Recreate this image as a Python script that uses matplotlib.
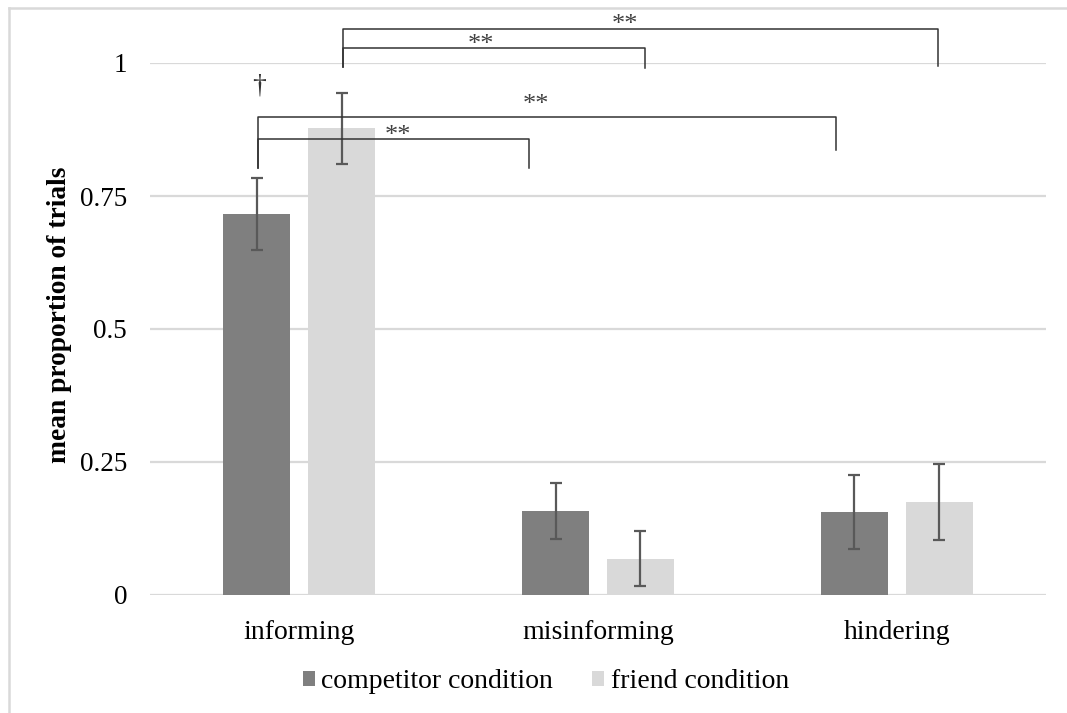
import matplotlib
matplotlib.use("Agg")
import matplotlib.pyplot as plt
from matplotlib.lines import Line2D
import numpy as np

categories = ["informing", "misinforming", "hindering"]
series_names = ["competitor condition", "friend condition"]
competitor = [0.716, 0.158, 0.156]
competitor_err = [0.068, 0.052, 0.070]
friend = [0.877, 0.068, 0.175]
friend_err = [0.067, 0.052, 0.071]
yticks = [0, 0.25, 0.5, 0.75, 1]
ytick_labels = ["0", "0.25", "0.5", "0.75", "1"]

plt.rcParams['font.family'] = ['Liberation Serif', 'DejaVu Serif']

fig = plt.figure(figsize=(10.67, 7.13), dpi=100)
ax = fig.add_axes([150/1067, 1-595/713, 896/1067, 532/713])

# figure frame (left and top edges)
fcol = '#d9d9d9'
fig.lines.append(Line2D([9/1067, 9/1067], [0, 1-8/713], transform=fig.transFigure,
                        color=fcol, linewidth=1.8))
fig.lines.append(Line2D([9/1067, 1], [1-8/713, 1-8/713], transform=fig.transFigure,
                        color=fcol, linewidth=1.8))

x = np.arange(len(categories))
w = 0.224
off = 0.142
ekw = dict(ecolor='#595959', elinewidth=1.6, capsize=4.5, capthick=1.6)
ax.bar(x - off, competitor, w, color='#7f7f7f', label=series_names[0], zorder=3,
       yerr=competitor_err, error_kw=ekw)
ax.bar(x + off, friend, w, color='#d9d9d9', label=series_names[1], zorder=3,
       yerr=friend_err, error_kw=ekw)

ax.set_xlim(-0.5, 2.5)
ax.set_ylim(0, 1)
ax.set_yticks(yticks)
ax.set_yticklabels(ytick_labels, fontsize=19.5)
ax.set_xticks(x)
ax.set_xticklabels(categories, fontsize=20)
ax.tick_params(axis='y', length=0, pad=16.5)
ax.tick_params(axis='x', length=0, pad=18)
for s in ax.spines.values():
    s.set_visible(False)
ax.yaxis.grid(True, color='#d9d9d9', linewidth=1.6, zorder=0)
ax.set_axisbelow(True)
ax.set_ylabel("mean proportion of trials", fontsize=19.8, fontweight='bold')
ax.yaxis.set_label_coords(-78/896, 0.526)

def px2x(p):
    return (p - 150) / 896 * 3 - 0.5
def px2y(p):
    return (595 - p) / 532

lc = '#333333'
def bracket(x1, x2, y, y1b, y2b):
    ax.plot([px2x(x1), px2x(x1), px2x(x2), px2x(x2)],
            [px2y(y1b), px2y(y), px2y(y), px2y(y2b)],
            color=lc, linewidth=1.1, clip_on=False, zorder=5)

bracket(343, 938, 29, 67, 66)
bracket(343, 645, 48, 67, 68)
bracket(258, 836, 117, 168, 150)
bracket(258, 529, 139, 168, 168)

star_kw = dict(ha='center', va='baseline', fontsize=19, color='#404040', clip_on=False)
dy = 13
ax.text(px2x(625), px2y(18 + dy), "**", **star_kw)
ax.text(px2x(481), px2y(38 + dy), "**", **star_kw)
ax.text(px2x(536), px2y(98 + dy), "**", **star_kw)
ax.text(px2x(398), px2y(129 + dy), "**", **star_kw)
ax.text(px2x(259), px2y(92), "†", ha='center', va='baseline', fontsize=20,
        color='#333333', clip_on=False)

leg = fig.legend(loc='center', bbox_to_anchor=(546/1067, 1-682/713), ncol=2,
                 frameon=False, fontsize=20, handlelength=0.43, handleheight=0.43,
                 handletextpad=0.25, columnspacing=1.4)

fig.savefig("out.png", dpi=100)
